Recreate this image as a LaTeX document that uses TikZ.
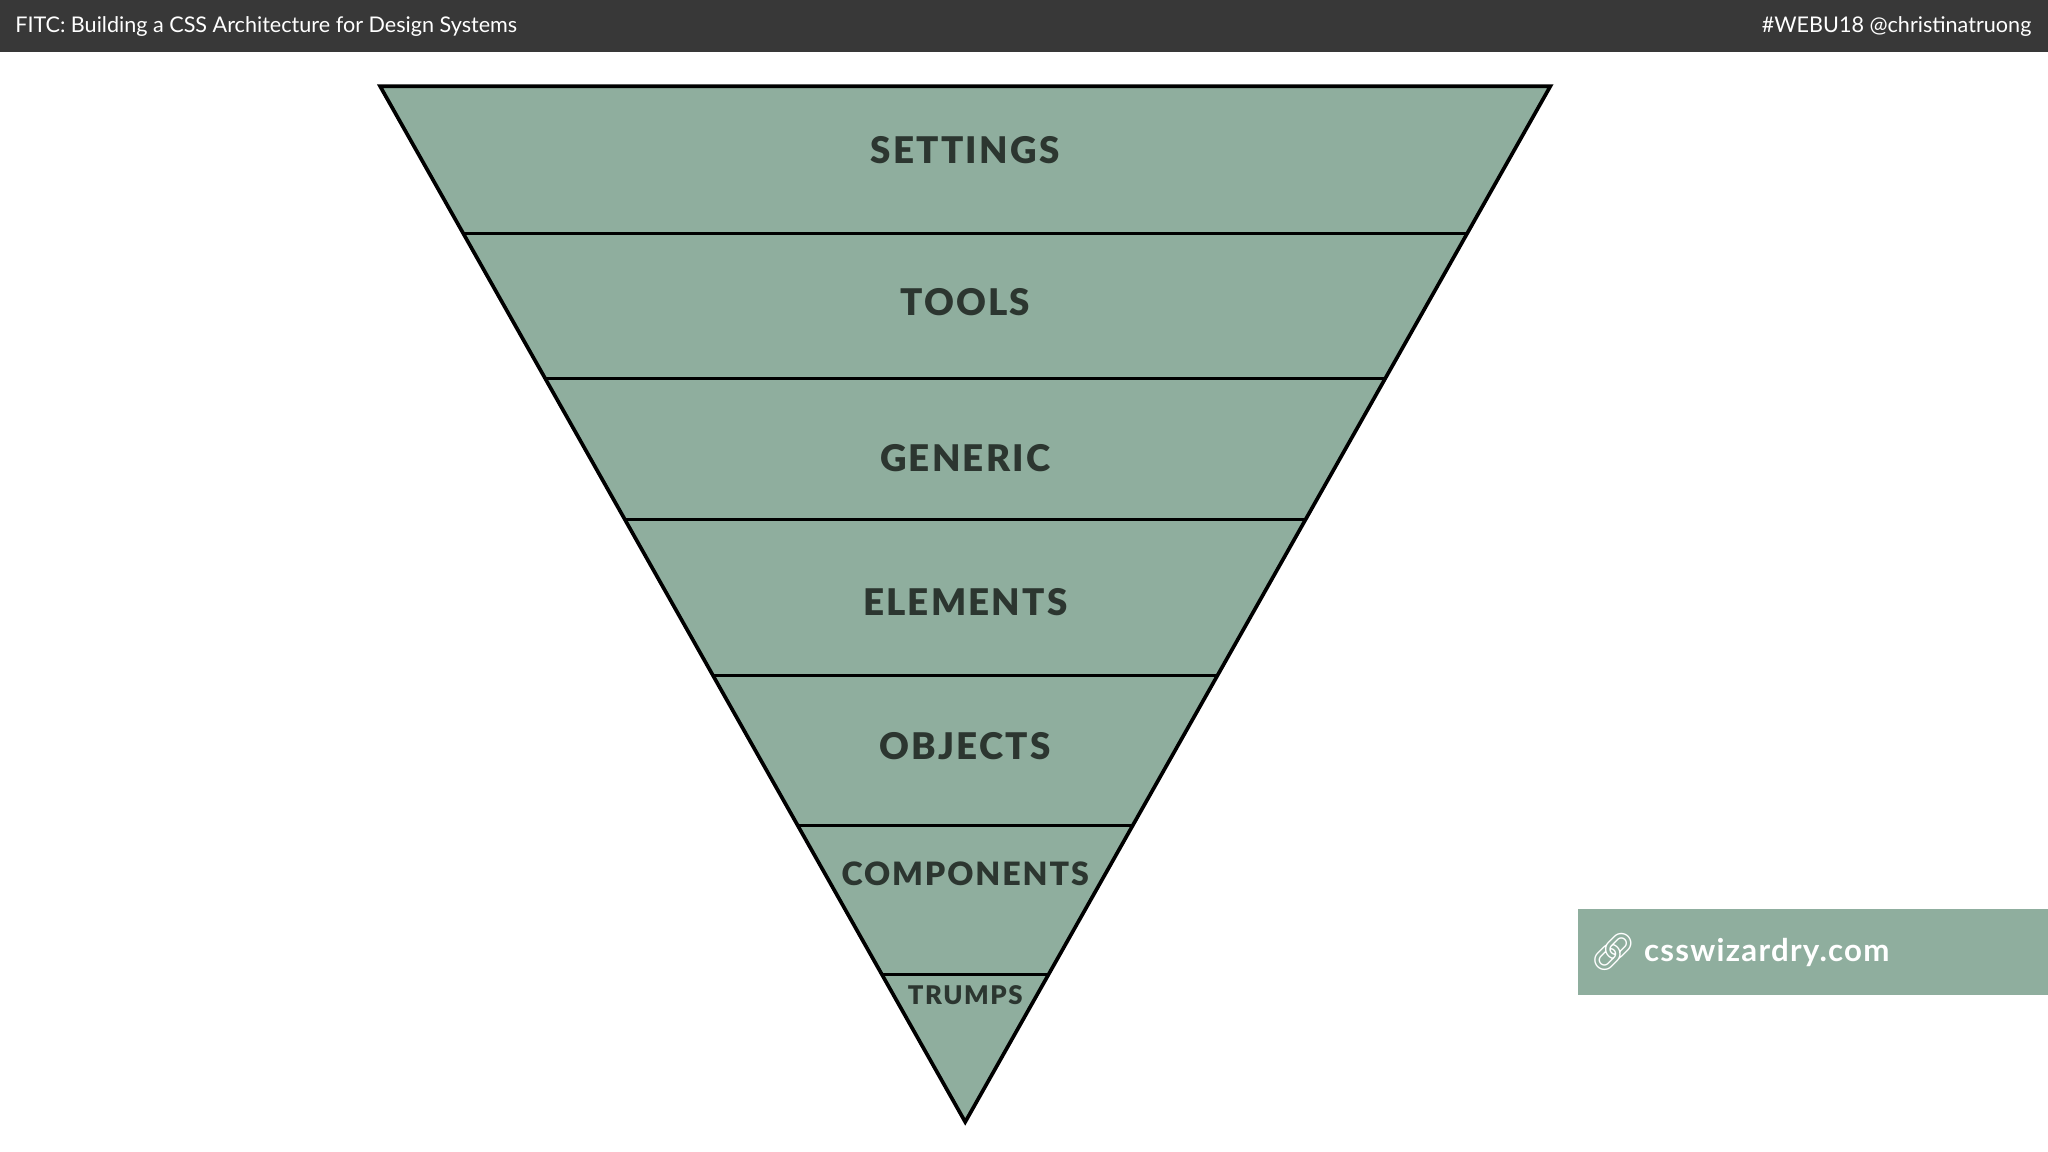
\documentclass[tikz,border=0pt]{standalone}
\usepackage{fontspec}
\setmainfont{Lato}
\newfontfamily\labfont[LetterSpace=6]{Lato Black}
\newfontfamily\linkfont[LetterSpace=4]{Lato Bold}
\newfontfamily\emojifont{Noto Emoji}
\usetikzlibrary{calc}
\definecolor{sage}{HTML}{8FAE9E}
\definecolor{bar}{HTML}{383838}
\definecolor{ink}{HTML}{2C3630}
\begin{document}
\begin{tikzpicture}[x=0.01cm,y=-0.01cm,
  lab/.style={text=ink,font=\labfont\fontsize{8}{9}\selectfont,anchor=center},
  sep/.style={draw=black,line width=0.7pt}]
\useasboundingbox (0,0) rectangle (1568,882);
\fill[white] (0,0) rectangle (1568,882);
\fill[bar] (0,0) rectangle (1568,40);
\node[text=white,anchor=west,inner sep=0pt,font=\fontsize{4.7}{5}\selectfont] (title) at (11,20) {FITC: Building a CSS Architecture for Design Systems};
\node[text=white,anchor=east,inner sep=0pt,font=\fontsize{4.7}{5}\selectfont] (tag) at (1556,20) {\#WEBU18 @christinatruong};
\coordinate (tl) at (291,66);
\coordinate (tr) at (1187,66);
\coordinate (bt) at (739,859);
\draw[fill=sage,line width=0.8pt,line join=miter] (tl) -- (tr) -- (bt) -- cycle;
\foreach \yy in {179,290,398,517,632,746}{
  \pgfmathsetmacro\t{(\yy-66)/793}
  \draw[sep] ($(tl)!\t!(bt)$) -- ($(tr)!\t!(bt)$);
}
\node[lab] (s) at (739,115) {SETTINGS};
\node[lab] (t) at (739,231) {TOOLS};
\node[lab] (g) at (739,351) {GENERIC};
\node[lab] (e) at (739,461) {ELEMENTS};
\node[lab] (o) at (739,571) {OBJECTS};
\node[lab,font=\labfont\fontsize{7}{8}\selectfont] (c) at (739,669) {COMPONENTS};
\node[lab,font=\labfont\fontsize{5.6}{6}\selectfont] (tr2) at (739,762) {TRUMPS};
\fill[sage] (1208,696) rectangle (1568,762);
\node[text=white,font=\emojifont\fontsize{8}{9}\selectfont] (icon) at (1235,729) {🔗};
\node[text=white,anchor=west,inner sep=0pt,font=\linkfont\fontsize{6.8}{8}\selectfont] (link) at (1258,729) {csswizardry.com};
\end{tikzpicture}
\end{document}
